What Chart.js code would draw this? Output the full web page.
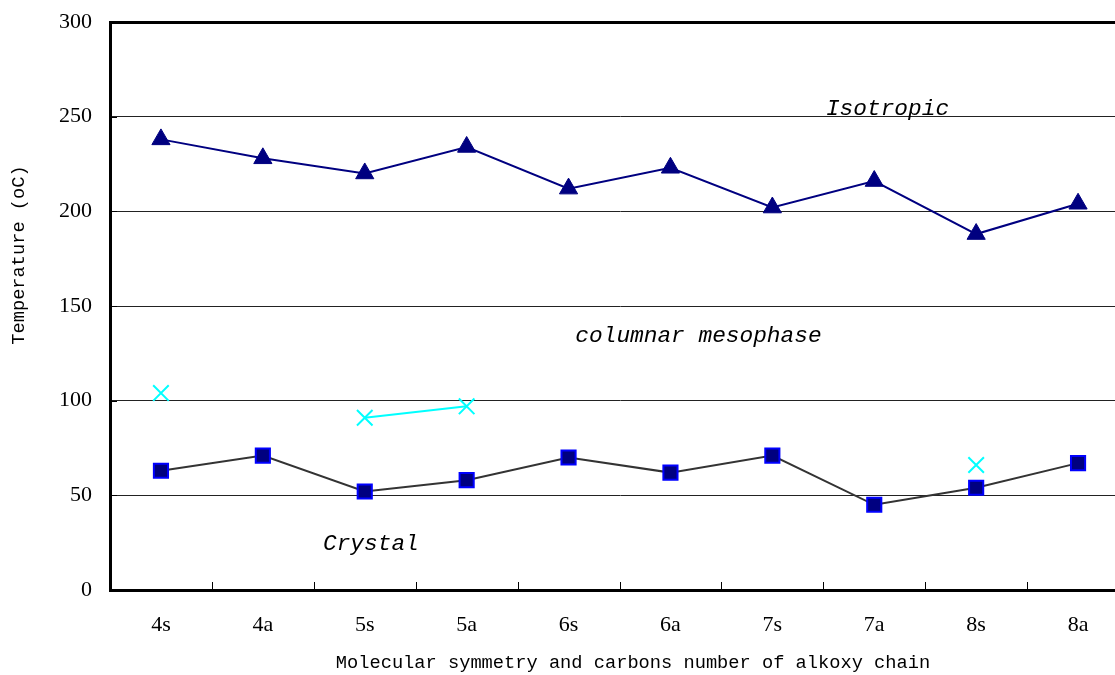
<!DOCTYPE html>
<html>
<head>
<meta charset="utf-8">
<script src="https://cdn.jsdelivr.net/npm/chart.js@4.4.1/dist/chart.umd.min.js"></script>
<style>
    html, body { margin: 0; padding: 0; background: #fff; overflow: hidden; }
    #wrap { width: 1142px; height: 675px; position: relative; }
</style>
</head>
<body>
<div id="wrap"><canvas id="phase_canvas"></canvas></div>
<script>
const categories = ["4s", "4a", "5s", "5a", "6s", "6a", "7s", "7a", "8s", "8a"];

// clearing point (triangles)
const isotropic_values = [238, 228, 220, 234, 212, 223, 202, 216, 188, 204];
// melting point (squares)
const crystal_values = [63, 71, 52, 58, 70, 62, 71, 45, 54, 67];
// extra transition (crosses), only a few compounds
const extra_values = [104, null, 91, 97, null, null, null, null, 66, null];

const y_ticks = [0, 50, 100, 150, 200, 250, 300];

const phase_labels = ["Isotropic", "columnar mesophase", "Crystal"];
const phase_label_x = [7.13, 5.275, 2.06];
const phase_label_y = [251, 131, 21];

const x_title = "Molecular symmetry and carbons number of alkoxy chain";
const y_title = "Temperature (oC)";

const mono = "'Liberation Mono', 'DejaVu Sans Mono', monospace";
const serif = "'Liberation Serif', 'DejaVu Serif', serif";

const phase_text_plugin = {
    id: "phase_text",
    afterDraw(chart) {
        const ctx = chart.ctx;
        const xs = chart.scales.x;
        const ys = chart.scales.y;
        const area = chart.chartArea;

        ctx.save();

        // small inner ticks on the axes
        ctx.strokeStyle = "#000";
        ctx.lineWidth = 1;
        ctx.beginPath();
        for (let i = 1; i < categories.length; i++) {
            const px = Math.round(xs.getPixelForValue(i - 0.5)) + 0.5;
            ctx.moveTo(px, area.bottom);
            ctx.lineTo(px, area.bottom - 8);
        }
        for (const v of y_ticks) {
            const py = Math.round(ys.getPixelForValue(v)) + 0.5;
            ctx.moveTo(area.left, py);
            ctx.lineTo(area.left + 7, py);
        }
        ctx.stroke();

        // phase names
        ctx.fillStyle = "#000";
        ctx.font = "italic 22.8px " + mono;
        ctx.textAlign = "center";
        ctx.textBaseline = "alphabetic";
        for (let i = 0; i < phase_labels.length; i++) {
            ctx.fillText(phase_labels[i],
                xs.getPixelForValue(phase_label_x[i]),
                ys.getPixelForValue(phase_label_y[i]));
        }

        // axis titles
        ctx.font = "18.7px " + mono;
        ctx.textBaseline = "middle";
        ctx.fillText(x_title, 633, 663);

        ctx.translate(19, 255);
        ctx.rotate(-Math.PI / 2);
        ctx.fillText(y_title, 0, 0);

        ctx.restore();
    }
};

let config = {
    type: "line",
    data: {
        labels: categories,
        datasets: [
            {
                label: "Isotropic",
                data: isotropic_values,
                borderColor: "#000080",
                backgroundColor: "#000080",
                borderWidth: 2,
                pointStyle: "triangle",
                pointRadius: 10.5,
                pointBorderWidth: 1,
                pointBorderColor: "#000080",
                pointBackgroundColor: "#000080"
            },
            {
                label: "Crystal",
                data: crystal_values,
                borderColor: "#333333",
                borderWidth: 2,
                pointStyle: "rect",
                pointRadius: 10,
                pointBorderWidth: 2,
                pointBorderColor: "#0000FF",
                pointBackgroundColor: "#000080"
            },
            {
                label: "Other",
                data: extra_values,
                borderColor: "#00FFFF",
                borderWidth: 2,
                spanGaps: false,
                pointStyle: "crossRot",
                pointRadius: 11,
                pointBorderWidth: 2,
                pointBorderColor: "#00FFFF"
            }
        ]
    },
    options: {
        responsive: true,
        maintainAspectRatio: false,
        animation: false,
        layout: {
            padding: {top: 22, right: 1, bottom: 0, left: 0}
        },
        plugins: {
            legend: {display: false},
            tooltip: {enabled: false},
            title: {display: false}
        },
        scales: {
            x: {
                type: "category",
                offset: true,
                grid: {
                    offset: true,
                    drawOnChartArea: false,
                    drawTicks: false
                },
                border: {color: "#000", width: 3},
                ticks: {
                    color: "#000",
                    padding: 22,
                    maxRotation: 0,
                    font: {family: serif, size: 22}
                },
                afterFit: function(scale) { scale.height = 85; }
            },
            y: {
                min: 0,
                max: 300,
                grid: {
                    drawTicks: false,
                    color: function(c) { return c.tick && c.tick.value === 300 ? "#000" : "#222"; },
                    lineWidth: function(c) { return c.tick && c.tick.value === 300 ? 3 : 1; }
                },
                border: {color: "#000", width: 3},
                ticks: {
                    stepSize: 50,
                    color: "#000",
                    padding: 18,
                    font: {family: serif, size: 22}
                },
                afterFit: function(scale) {
                    scale.width = 110;
                    scale.paddingTop = 0;
                    scale.paddingBottom = 0;
                }
            }
        }
    },
    plugins: [phase_text_plugin]
};

const phase_plot = new Chart(document.getElementById("phase_canvas"), config);
</script>
</body>
</html>
